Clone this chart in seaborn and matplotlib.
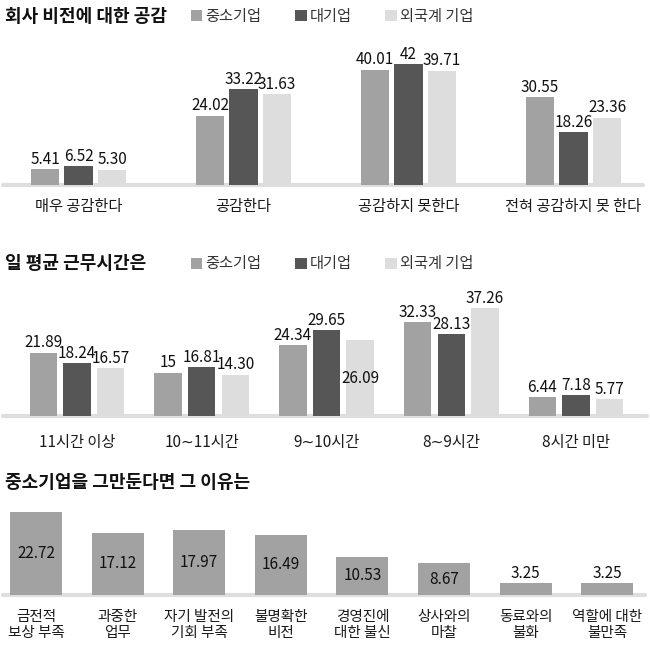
import matplotlib
matplotlib.use('Agg')
import matplotlib.pyplot as plt
from matplotlib import font_manager
import seaborn as sns
import pandas as pd

# ---------------- data ----------------
groups = ['중소기업', '대기업', '외국계 기업']

title1 = '회사 비전에 대한 공감'
cats1 = ['매우 공감한다', '공감한다', '공감하지 못한다', '전혀 공감하지 못 한다']
sme1 = [5.41, 24.02, 40.01, 30.55]
large1 = [6.52, 33.22, 42, 18.26]
foreign1 = [5.30, 31.63, 39.71, 23.36]

title2 = '일 평균 근무시간은'
cats2 = ['11시간 이상', '10∼11시간', '9∼10시간', '8∼9시간', '8시간 미만']
sme2 = [21.89, 15, 24.34, 32.33, 6.44]
large2 = [18.24, 16.81, 29.65, 28.13, 7.18]
foreign2 = [16.57, 14.30, 26.09, 37.26, 5.77]

title3 = '중소기업을 그만둔다면 그 이유는'
cats3 = ['금전적\n보상 부족', '과중한\n업무', '자기 발전의\n기회 부족', '불명확한\n비전',
         '경영진에\n대한 불신', '상사와의\n마찰', '동료와의\n불화', '역할에 대한\n불만족']
vals3 = [22.72, 17.12, 17.97, 16.49, 10.53, 8.67, 3.25, 3.25]

# ---------------- style ----------------
sns.set_theme(style='white')
KR = ['Noto Sans CJK KR', 'DejaVu Sans']
plt.rcParams['font.family'] = KR

available = {f.name for f in font_manager.fontManager.ttflist}
if 'Liberation Sans Narrow' in available:
    NUM = ['Liberation Sans Narrow', 'Noto Sans CJK KR']
    NUM_SIZE = 12
else:
    NUM = KR
    NUM_SIZE = 11

colors = ['#a2a2a2', '#565656', '#dddddd']
band_color = '#dedede'
W = H = 650
fig = plt.figure(figsize=(6.5, 6.5), dpi=100)
fig.patch.set_facecolor('white')


def rect(left, right, top, bottom):
    return [left / W, 1 - bottom / H, (right - left) / W, (bottom - top) / H]


def fmt(v):
    return f"{v:g}" if float(v).is_integer() else f"{v:.2f}"


def clean(ax, pad, size):
    sns.despine(ax=ax, left=True, bottom=True, top=True, right=True)
    ax.set_yticks([])
    ax.set_xlabel('')
    ax.set_ylabel('')
    ax.patch.set_alpha(0)
    ax.tick_params(axis='x', length=0, pad=pad, labelsize=size, labelcolor='#1a1a1a')
    for t in ax.get_xticklabels():
        t.set_fontfamily(KR)
    ax.axhline(0, color=band_color, lw=3, zorder=0.5, clip_on=False)


def grouped(ax, cats, series, width, gap, ylim, xlim, pad, legend_y, inside=()):
    rows = []
    for g, vals in zip(groups, series):
        for c, v in zip(cats, vals):
            rows.append({'cat': c, 'value': v, 'group': g})
    df = pd.DataFrame(rows)
    sns.barplot(data=df, x='cat', y='value', hue='group', order=cats, hue_order=groups,
                palette=colors, saturation=1, width=width, gap=gap, errorbar=None,
                linewidth=0, ax=ax)
    h, l = ax.get_legend_handles_labels()
    if ax.get_legend() is not None:
        ax.get_legend().remove()
    fig.legend(h, l, loc='center left', bbox_to_anchor=(191 / W, 1 - legend_y / H),
               bbox_transform=fig.transFigure, ncol=3, frameon=False,
               handlelength=0.75, handleheight=0.75, handletextpad=0.2,
               columnspacing=2.2, borderpad=0, borderaxespad=0,
               prop={'family': KR, 'size': 11}, labelcolor='#333333')
    for gi, cont in enumerate(ax.containers):
        for ci, r in enumerate(cont):
            x = r.get_x() + r.get_width() / 2
            v = r.get_height()
            if (gi, ci) in inside:
                ax.text(x, v / 2, fmt(v), ha='center', va='center',
                        fontsize=NUM_SIZE, family=NUM, color='#111111')
            else:
                ax.annotate(fmt(v), (x, v), xytext=(0, 1), textcoords='offset points',
                            ha='center', va='bottom', fontsize=NUM_SIZE, family=NUM,
                            color='#111111')
    ax.set_ylim(*ylim)
    ax.set_xlim(*xlim)
    clean(ax, pad, 11)


# ---------------- chart 1 ----------------
fig.text(5 / W, 1 - 17 / H, title1, fontsize=13, fontweight='bold', ha='left',
         va='center', color='#111111')
ax1 = fig.add_axes(rect(3, 643, 41, 185))
grouped(ax1, cats1, [sme1, large1, foreign1], width=0.609, gap=0.16,
        ylim=(0, 50), xlim=(-0.458, 3.421), pad=9, legend_y=16)

# ---------------- chart 2 ----------------
fig.text(5 / W, 1 - 264 / H, title2, fontsize=13, fontweight='bold', ha='left',
         va='center', color='#111111')
ax2 = fig.add_axes(rect(3, 647, 300, 416))
grouped(ax2, cats2, [sme2, large2, foreign2], width=0.806, gap=0.18,
        ylim=(0, 40), xlim=(-0.593, 4.569), pad=13, legend_y=264,
        inside={(2, 2)})

# ---------------- chart 3 ----------------
fig.text(5 / W, 1 - 483 / H, title3, fontsize=13, fontweight='bold', ha='left',
         va='center', color='#111111')
ax3 = fig.add_axes(rect(3, 645, 504, 595))
sns.barplot(x=cats3, y=vals3, color='#a2a2a2', saturation=1, width=0.637,
            errorbar=None, linewidth=0, ax=ax3)
for r in ax3.patches:
    x = r.get_x() + r.get_width() / 2
    v = r.get_height()
    if v > 5:
        ax3.text(x, v / 2, fmt(v), ha='center', va='center', fontsize=NUM_SIZE,
                 family=NUM, color='#111111')
    else:
        ax3.annotate(fmt(v), (x, v), xytext=(0, 1), textcoords='offset points',
                     ha='center', va='bottom', fontsize=NUM_SIZE, family=NUM,
                     color='#111111')
ax3.set_ylim(0, 25)
ax3.set_xlim(-0.404, 7.463)
clean(ax3, 11, 10.5)
for t in ax3.get_xticklabels():
    t.set_linespacing(1.12)

fig.savefig('out.png', dpi=100, facecolor='white')
